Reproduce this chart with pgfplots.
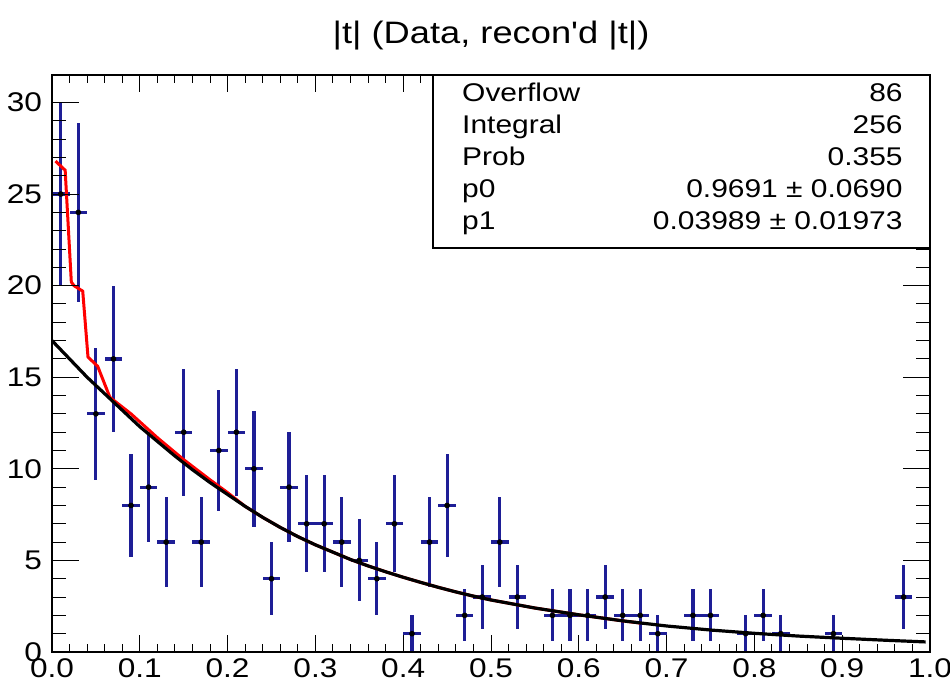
\documentclass[border=0pt]{standalone}
\usepackage{fontspec}
\setmainfont[FakeStretch=1.17]{Liberation Sans}
\newfontfamily\titlefont[FakeStretch=1.17]{Liberation Sans}
\usepackage{pgfplots}
\usepackage{pgfplotstable}
\pgfplotsset{compat=1.18}
\definecolor{rootblue}{HTML}{1E1E96}

% bin centre, content, sqrt(content); empty bins left out
\pgfplotstableread{
x    y   ey
0.01 25 5
0.03 24 4.899
0.05 13 3.606
0.07 16 4
0.09 8  2.828
0.11 9  3
0.13 6  2.449
0.15 12 3.464
0.17 6  2.449
0.19 11 3.317
0.21 12 3.464
0.23 10 3.162
0.25 4  2
0.27 9  3
0.29 7  2.646
0.31 7  2.646
0.33 6  2.449
0.35 5  2.236
0.37 4  2
0.39 7  2.646
0.41 1  1
0.43 6  2.449
0.45 8  2.828
0.47 2  1.414
0.49 3  1.732
0.51 6  2.449
0.53 3  1.732
0.57 2  1.414
0.59 2  1.414
0.61 2  1.414
0.63 3  1.732
0.65 2  1.414
0.67 2  1.414
0.69 1  1
0.73 2  1.414
0.75 2  1.414
0.79 1  1
0.81 2  1.414
0.83 1  1
0.89 1  1
0.97 3  1.732
}\hist

\begin{document}
\begin{tikzpicture}
\pgfplotsset{rootframe/.style={
  scale only axis, width=439pt, height=288.5pt,
  xmin=0, xmax=1, ymin=0, ymax=31.5,
  axis line style={line width=0.7pt},
  tick style={line width=0.5pt, black}, tick align=inside,
  /pgf/number format/assume math mode=true,
  ticklabel style={font=\fontsize{13.5}{16}\selectfont},
}}
\begin{axis}[rootframe,
  xtick={0,0.1,0.2,0.3,0.4,0.5,0.6,0.7,0.8,0.9,1}, minor x tick num=4,
  ytick=\empty,
  major tick length=8.5pt, minor tick length=4pt,
  xticklabel style={/pgf/number format/.cd, fixed, fixed zerofill, precision=1},
]
% error bars first, markers on top of them
\addplot[draw=none, mark=none,
  error bars/.cd, x dir=both, x fixed=0.01, y dir=both, y explicit,
  error mark=none, error bar style={rootblue, line width=1.6pt}]
  table[x=x, y=y, y error=ey] {\hist};
\addplot[only marks, mark=*, mark size=1.2pt, black] table[x=x, y=y] {\hist};
\addplot[red, line width=1.5pt] coordinates {
  (0.004,26.8) (0.015,26.3) (0.022,20.2) (0.025,20.0) (0.035,19.7)
  (0.041,16.1) (0.052,15.6) (0.066,13.9) (0.09,13.0) (0.12,11.7)
  (0.15,10.5) (0.18,9.4) (0.20,8.7) (0.22,7.95) (0.24,7.35) (0.26,6.8)
  (0.28,6.3) (0.30,5.85) (0.32,5.45) (0.34,5.05) (0.36,4.7) (0.38,4.38)
  (0.40,4.08) (0.42,3.8) (0.44,3.53) (0.46,3.28) (0.48,3.05) (0.50,2.84)
  (0.55,2.4) (0.60,2.03) (0.65,1.7) (0.67,1.58)};
\addplot[black, line width=1.6pt] coordinates {
  (0,17.0) (0.02,16.0) (0.04,15.0) (0.06,14.1) (0.08,13.2) (0.10,12.3)
  (0.12,11.5) (0.14,10.7) (0.16,9.95) (0.18,9.25) (0.20,8.6) (0.22,7.95)
  (0.24,7.35) (0.26,6.8) (0.28,6.3) (0.30,5.85) (0.32,5.45) (0.34,5.05)
  (0.36,4.7) (0.38,4.38) (0.40,4.08) (0.42,3.8) (0.44,3.53) (0.46,3.28)
  (0.48,3.05) (0.50,2.84) (0.55,2.4) (0.60,2.03) (0.65,1.7) (0.70,1.42)
  (0.75,1.2) (0.80,1.02) (0.85,0.87) (0.90,0.75) (0.95,0.64) (0.995,0.55)};
\end{axis}
% second frame only for the longer y ticks
\begin{axis}[rootframe,
  xtick=\empty,
  ytick={0,5,10,15,20,25,30}, minor y tick num=4,
  major tick length=13.5pt, minor tick length=7pt,
  yticklabel style={xshift=-1.5pt},
]
\end{axis}

% stats box
\draw[line width=0.7pt, fill=white] (190.5pt,202pt) rectangle (439pt,288.5pt);
\begin{scope}[every node/.style={inner sep=0pt, font=\fontsize{12.8}{15}\selectfont}]
\node[anchor=base west] at (204.9pt,275pt) {Overflow};
\node[anchor=base east] at (425.5pt,275pt) {86};
\node[anchor=base west] at (204.9pt,259pt) {Integral};
\node[anchor=base east] at (425.5pt,259pt) {256};
\node[anchor=base west] at (204.9pt,243pt) {Prob};
\node[anchor=base east] at (425.5pt,243pt) {0.355};
\node[anchor=base west] at (204.9pt,227pt) {p0};
\node[anchor=base east] at (425.5pt,227pt) {0.9691 ± 0.0690};
\node[anchor=base west] at (204.9pt,211pt) {p1};
\node[anchor=base east] at (425.5pt,211pt) {0.03989 ± 0.01973};
\end{scope}

\node[anchor=base, inner sep=0pt, font=\titlefont\fontsize{15.5}{18}\selectfont]
  at (219.5pt,304pt) {|t| (Data, recon'd |t|)};

\pgfresetboundingbox
\path[use as bounding box] (-26pt,-17.5pt) rectangle (449pt,326pt);
\end{tikzpicture}
\end{document}
